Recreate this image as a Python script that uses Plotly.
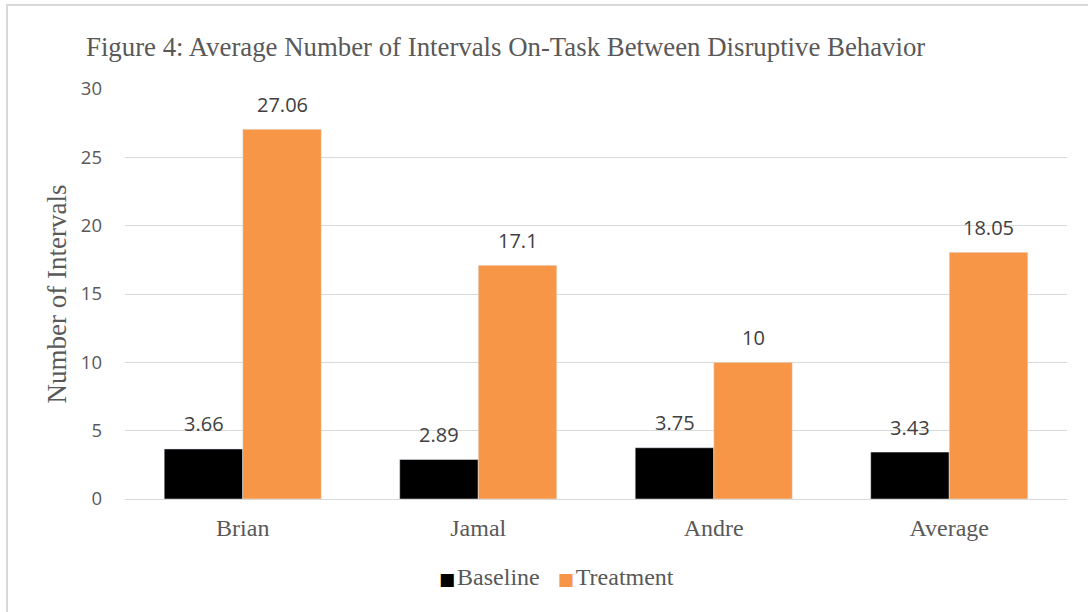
import plotly.graph_objects as go

categories = ["Brian", "Jamal", "Andre", "Average"]
baseline = [3.66, 2.89, 3.75, 3.43]
treatment = [27.06, 17.1, 10, 18.05]
baseline_labels = ["3.66", "2.89", "3.75", "3.43"]
treatment_labels = ["27.06", "17.1", "10", "18.05"]

SERIF = "Liberation Serif, Times New Roman, serif"
SANS = "Open Sans, sans-serif"
BASE_COLOR = "#000000"
TREAT_COLOR = "#F79646"

# plot-area geometry in pixels, used to place paper-referenced items
L, R, T, B = 125, 21, 89, 113
PW, PH = 1088 - L - R, 612 - T - B

fig = go.Figure()
fig.add_trace(go.Bar(name="Baseline", x=categories, y=baseline,
                     marker=dict(color=BASE_COLOR), showlegend=False))
fig.add_trace(go.Bar(name="Treatment", x=categories, y=treatment,
                     marker=dict(color=TREAT_COLOR), showlegend=False))

# value labels placed above each bar (half a bar width to either side of the category)
annotations = []
half_bar = 39.25
for vals, labels, shift in ((baseline, baseline_labels, -half_bar),
                            (treatment, treatment_labels, half_bar)):
    for cat, v, lab in zip(categories, vals, labels):
        annotations.append(dict(
            x=cat, y=v, xref="x", yref="y", text=lab, showarrow=False,
            xshift=shift, yshift=25, yanchor="middle",
            font=dict(family=SANS, size=20, color="#404040"),
        ))

# legend row
sq = "font-family:DejaVu Sans;font-size:17px"
annotations.append(dict(
    x=(556 - L) / PW, y=(612 - B - 577) / PH, xref="paper", yref="paper",
    xanchor="center", yanchor="middle", showarrow=False,
    text=(f"<span style='{sq};color:{BASE_COLOR}'>■</span>"
          "<span style='font-size:8px'> </span>Baseline&nbsp;&nbsp;&nbsp;"
          f"<span style='{sq};color:{TREAT_COLOR}'>■</span>"
          "<span style='font-size:8px'> </span>Treatment"),
    font=dict(family=SERIF, size=24, color="#595959"),
))

fig.update_layout(
    width=1088, height=612,
    margin=dict(l=L, r=R, t=T, b=B),
    paper_bgcolor="white", plot_bgcolor="white",
    barmode="group", bargap=0.333, bargroupgap=0,
    showlegend=False,
    title=dict(
        text="Figure 4: Average Number of Intervals On-Task Between Disruptive Behavior",
        x=86 / 1088, xanchor="left", y=1 - 47 / 612, yanchor="middle",
        font=dict(family=SERIF, size=26.8, color="#595959"),
    ),
    xaxis=dict(
        showgrid=False, showline=False, ticks="", ticklabelstandoff=12,
        tickfont=dict(family=SERIF, size=24, color="#595959"),
    ),
    yaxis=dict(
        range=[0, 30], dtick=5, showgrid=True, gridcolor="#d9d9d9", gridwidth=1,
        zeroline=True, zerolinecolor="#d9d9d9", zerolinewidth=1,
        tickfont=dict(family=SANS, size=18.5, color="#595959"),
        ticklabelstandoff=22,
        title=dict(
            text="Number of Intervals", standoff=6,
            font=dict(family=SERIF, size=27, color="#595959"),
        ),
    ),
    annotations=annotations,
    shapes=[dict(
        type="rect", xref="paper", yref="paper",
        x0=(7 - L) / PW, x1=1.2, y0=-0.5, y1=(612 - B - 5) / PH,
        line=dict(color="#d9d9d9", width=2), fillcolor="rgba(0,0,0,0)", layer="below",
    )],
)

fig.write_html("out.html")
